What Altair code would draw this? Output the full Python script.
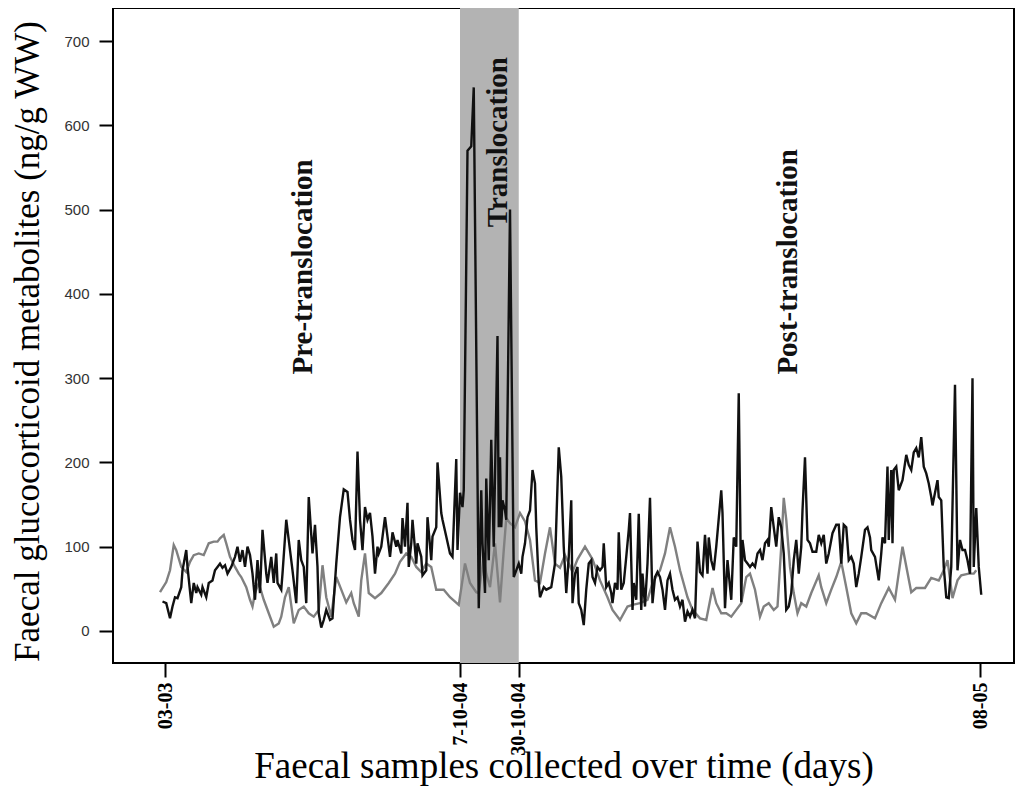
import altair as alt
import pandas as pd

# ---- axis ticks / labels ----
tick_values = [0, 236, 283, 652]
tick_labels = ["03-03", "7-10-04", "30-10-04", "08-05"]
y_ticks = [0, 100, 200, 300, 400, 500, 600, 700]

# ---- translocation period (sample positions) ----
band_start = [236]
band_end = [283]

# ---- black series (sample position, ng/g WW) ----
black_x = [-2, 1, 4, 6, 8, 10, 13, 14, 17, 18, 21, 23, 25, 26, 29, 30, 33, 35, 38, 40,
           42, 44, 46, 48, 50, 53, 56, 58, 60, 62, 64, 66, 68, 70, 72, 74, 76, 78, 81, 82,
           85, 87, 89, 90, 93, 94, 97, 100, 102, 105, 107, 109, 111, 113, 115, 118, 120, 122, 123, 125,
           127, 129, 132, 134, 137, 140, 143, 146, 148, 150, 152, 154, 156, 158, 160, 162, 164, 166, 168, 170,
           171, 173, 176, 178, 180, 182, 185, 186, 189, 190, 192, 194, 195, 197, 198, 201, 202, 205, 206, 209,
           210, 213, 214, 217, 218, 221, 222, 225, 228, 230, 233, 234, 236, 238, 239, 242, 245, 247, 251, 253,
           254, 256, 257, 259, 260, 261, 263, 266, 267, 268, 269, 270, 272, 273, 276, 279, 281, 283, 285, 286,
           288, 290, 292, 294, 296, 297, 299, 300, 303, 305, 309, 312, 315, 317, 319, 321, 323, 325, 326, 328,
           330, 331, 333, 335, 337, 339, 341, 342, 344, 346, 348, 350, 351, 353, 355, 357, 358, 360, 362, 363,
           365, 367, 369, 371, 372, 374, 375, 377, 379, 381, 382, 384, 386, 388, 390, 392, 394, 396, 398, 400,
           402, 404, 406, 408, 410, 412, 414, 416, 418, 420, 422, 424, 426, 428, 430, 432, 434, 435, 437, 439,
           441, 445, 446, 448, 450, 451, 453, 455, 457, 459, 461, 462, 464, 466, 468, 470, 472, 474, 476, 478,
           480, 482, 483, 485, 487, 489, 491, 493, 495, 497, 499, 501, 503, 505, 507, 509, 510, 512, 514, 516,
           518, 521, 523, 525, 527, 529, 531, 534, 537, 539, 541, 543, 545, 547, 549, 551, 553, 555, 557, 560,
           562, 564, 565, 568, 571, 573, 574, 576, 578, 579, 581, 582, 583, 585, 587, 590, 593, 595, 597, 599,
           601, 603, 605, 607, 609, 611, 613, 614, 616, 618, 619, 621, 623, 625, 627, 629, 632, 634, 636, 638,
           640, 642, 644, 646, 647, 649, 651, 653]
black_y = [35, 33, 15, 29, 40, 39, 52, 72, 96, 76, 33, 57, 45, 52, 43, 52, 40, 57, 60, 72,
           76, 80, 75, 78, 68, 76, 88, 100, 82, 96, 76, 100, 90, 68, 37, 84, 45, 120, 68, 57,
           88, 57, 92, 57, 49, 68, 132, 96, 72, 33, 108, 84, 76, 33, 159, 92, 126, 76, 21, 4,
           13, 25, 13, 15, 80, 135, 168, 165, 132, 108, 96, 213, 132, 96, 147, 132, 140, 112, 68, 100,
           92, 100, 135, 112, 88, 117, 100, 108, 92, 134, 100, 152, 76, 104, 132, 80, 104, 88, 66, 72,
           135, 84, 112, 123, 200, 140, 132, 112, 92, 88, 204, 96, 164, 147, 167, 570, 575, 645, 27, 167,
           104, 45, 181, 84, 152, 227, 100, 350, 123, 206, 123, 155, 143, 132, 500, 64, 72, 80, 68, 88,
           104, 135, 143, 191, 175, 123, 57, 40, 52, 49, 52, 80, 218, 183, 100, 45, 88, 155, 33, 68,
           76, 33, 25, 7, 49, 80, 84, 64, 57, 76, 72, 76, 104, 52, 57, 45, 33, 57, 49, 117,
           49, 57, 88, 120, 140, 25, 57, 37, 139, 25, 68, 29, 80, 158, 33, 64, 70, 64, 49, 25,
           60, 68, 49, 37, 40, 29, 37, 11, 23, 17, 25, 15, 106, 70, 66, 114, 68, 111, 84, 72,
           100, 167, 140, 27, 84, 68, 37, 111, 100, 282, 34, 108, 84, 80, 76, 80, 76, 92, 96, 84,
           104, 108, 100, 147, 123, 100, 135, 123, 92, 25, 29, 45, 84, 108, 68, 100, 143, 206, 108, 104,
           94, 94, 114, 104, 114, 80, 92, 116, 126, 126, 80, 126, 123, 84, 88, 80, 52, 68, 88, 120,
           123, 111, 96, 88, 60, 92, 111, 104, 195, 108, 191, 104, 191, 195, 167, 179, 209, 197, 191, 212,
           217, 206, 230, 195, 187, 175, 159, 149, 164, 179, 159, 155, 76, 40, 39, 76, 292, 72, 108, 96,
           96, 84, 68, 300, 76, 146, 76, 43]

# ---- grey series (sample position, ng/g WW) ----
grey_x = [-4, 1, 4, 7, 9, 13, 17, 20, 23, 27, 31, 35, 39, 42, 44, 47, 49, 52, 56, 59,
          61, 65, 68, 70, 72, 75, 79, 83, 87, 91, 93, 96, 99, 103, 107, 111, 115, 119, 123, 126,
          129, 133, 137, 141, 145, 149, 151, 155, 157, 160, 163, 168, 173, 179, 184, 188, 193, 197, 201, 205,
          209, 213, 217, 223, 228, 235, 240, 244, 249, 251, 255, 257, 260, 264, 268, 271, 273, 276, 280, 284,
          288, 292, 296, 300, 304, 308, 312, 316, 320, 326, 330, 336, 342, 348, 354, 358, 364, 370, 374, 380,
          386, 390, 396, 400, 404, 408, 412, 418, 422, 428, 433, 438, 441, 445, 449, 453, 457, 461, 465, 468,
          472, 476, 479, 483, 487, 490, 493, 495, 497, 500, 503, 506, 509, 513, 517, 523, 525, 529, 533, 537,
          541, 545, 549, 553, 557, 561, 568, 573, 579, 584, 590, 597, 601, 608, 613, 619, 623, 626, 630, 634,
          637, 643, 647, 649]
grey_y = [46, 58, 72, 102, 96, 76, 70, 82, 90, 92, 90, 104, 106, 106, 110, 114, 104, 88, 76, 68,
          64, 52, 37, 29, 45, 57, 37, 21, 5, 9, 17, 40, 52, 9, 25, 29, 21, 17, 25, 78,
          40, 17, 64, 49, 34, 45, 33, 17, 60, 92, 45, 39, 45, 57, 68, 82, 92, 88, 76, 70,
          80, 76, 49, 49, 40, 31, 80, 57, 46, 45, 88, 68, 52, 104, 34, 96, 134, 128, 123, 140,
          130, 108, 60, 57, 92, 123, 80, 75, 90, 70, 85, 100, 85, 60, 40, 25, 13, 29, 31, 33,
          37, 57, 72, 92, 123, 100, 72, 40, 25, 15, 13, 51, 33, 21, 21, 17, 25, 33, 64, 68,
          49, 17, 29, 33, 25, 29, 100, 158, 132, 76, 45, 21, 33, 29, 45, 66, 52, 33, 49, 64,
          82, 52, 21, 9, 21, 21, 15, 33, 51, 37, 100, 46, 51, 51, 63, 60, 72, 84, 39, 60,
          66, 68, 68, 72]

# ---- period annotations ----
ann_text = ["Pre-translocation", "Translocation", "Post-translocation"]
ann_x = [110, 266, 498]
ann_y = [432, 580, 438]

black_df = pd.DataFrame({"x": black_x, "y": black_y})
grey_df = pd.DataFrame({"x": grey_x, "y": grey_y})
band_df = pd.DataFrame({"x": band_start, "x2": band_end})
ann_df = pd.DataFrame({"x": ann_x, "y": ann_y, "label": ann_text})

label_expr = " : ".join(
    f"datum.value == {v} ? '{l}'" for v, l in zip(tick_values, tick_labels)
) + " : ''"

x_scale = alt.Scale(domain=[-41.6, 679.2], nice=False, zero=False)
y_scale = alt.Scale(domain=[-38, 739.2], nice=False, zero=False)

x_axis = alt.Axis(
    values=tick_values, labelExpr=label_expr, labelAngle=270,
    labelFont="Liberation Serif", labelFontWeight="bold", labelFontSize=20,
    labelColor="black", labelPadding=5, labelFlush=False, labelOverlap=False,
    tickSize=14, tickWidth=2, tickColor="black", domain=False, grid=False,
    title="Faecal samples collected over time (days)",
    titleFont="Liberation Serif", titleFontSize=37, titleFontWeight="normal",
    titleColor="black", titleBaseline="alphabetic", titleY=114,
)
y_axis = alt.Axis(
    values=y_ticks, labelFont="Liberation Sans", labelFontSize=15,
    labelColor="#333333", labelPadding=10, labelFlush=False,
    tickSize=14, tickWidth=2, tickColor="black", domain=False, grid=False,
    title="Faecal glucocorticoid metabolites (ng/g WW)",
    titleFont="Liberation Serif", titleFontSize=35, titleFontWeight="normal",
    titleColor="black", titleAngle=270, titleBaseline="middle",
    titleAlign="center", titleX=-85.5, titleY=333,
)

X = alt.X("x:Q", scale=x_scale, axis=x_axis)
Y = alt.Y("y:Q", scale=y_scale, axis=y_axis)

band = alt.Chart(band_df).mark_rect(color="#b3b3b3").encode(x=X, x2="x2:Q")
grey = alt.Chart(grey_df).mark_line(color="#808080", strokeWidth=2.4).encode(x=X, y=Y)
black = alt.Chart(black_df).mark_line(color="#111111", strokeWidth=2.4).encode(x=X, y=Y)
ann = alt.Chart(ann_df).mark_text(
    angle=270, font="Liberation Serif", fontWeight="bold", fontSize=29,
    color="#111111", align="center", baseline="middle",
).encode(x=X, y=Y, text="label:N")

chart = alt.layer(band, grey, black, ann).properties(
    width=901, height=655,
    autosize=alt.AutoSizeParams(type="none"),
    padding={"left": 105, "top": 0, "right": 1, "bottom": 125},
).configure_view(stroke="black", strokeWidth=2)

chart.save("out.html", embed_options={"renderer": "svg", "actions": False})
